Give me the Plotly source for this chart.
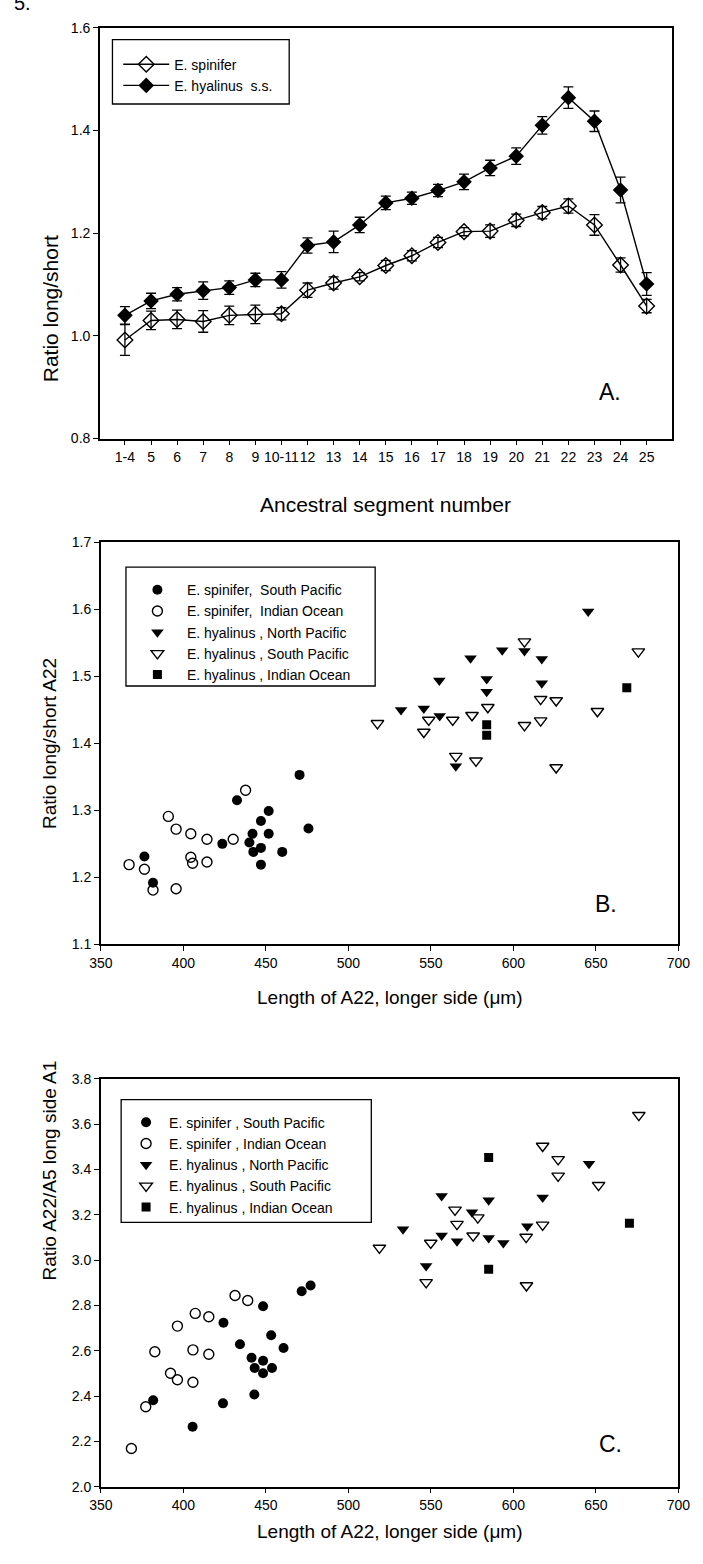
import plotly.graph_objects as go

FONT = "Liberation Sans, Arial, sans-serif"
W, H = 703, 1564

# ---------------- Panel A data ----------------
segments = ["1-4", "5", "6", "7", "8", "9", "10-11", "12", "13", "14", "15", "16",
            "17", "18", "19", "20", "21", "22", "23", "24", "25"]
spinifer_ratio = [0.992, 1.030, 1.032, 1.028, 1.040, 1.042, 1.043, 1.089, 1.103, 1.115, 1.137,
                  1.156, 1.182, 1.203, 1.204, 1.225, 1.240, 1.253, 1.216, 1.138, 1.058]
spinifer_err = [0.030, 0.018, 0.018, 0.021, 0.018, 0.018, 0.012, 0.014, 0.012, 0.008, 0.010,
                0.010, 0.010, 0.008, 0.012, 0.012, 0.012, 0.014, 0.020, 0.014, 0.013]
hyalinus_ratio = [1.040, 1.068, 1.081, 1.088, 1.094, 1.109, 1.109, 1.176, 1.183, 1.216, 1.259,
                  1.268, 1.283, 1.300, 1.327, 1.350, 1.410, 1.464, 1.418, 1.284, 1.101]
hyalinus_err = [0.017, 0.015, 0.013, 0.017, 0.013, 0.013, 0.016, 0.015, 0.021, 0.015, 0.013,
                0.012, 0.012, 0.015, 0.015, 0.016, 0.017, 0.021, 0.020, 0.025, 0.022]

# ---------------- Panel B data ----------------
b_spSP_x = [470.4, 432.5, 451.7, 447.0, 475.8, 441.9, 451.7, 423.6, 440.0, 447.0, 442.4, 459.9, 447.0, 376.4, 381.6]
b_spSP_y = [1.353, 1.315, 1.299, 1.284, 1.273, 1.265, 1.265, 1.250, 1.252, 1.244, 1.238, 1.238, 1.219, 1.231, 1.192]
b_spIO_x = [437.7, 390.9, 395.6, 404.5, 414.3, 430.2, 404.5, 405.6, 414.3, 367.1, 376.4, 381.6, 395.6]
b_spIO_y = [1.330, 1.291, 1.272, 1.265, 1.257, 1.257, 1.230, 1.221, 1.223, 1.219, 1.212, 1.181, 1.183]
b_hyNP_x = [645.3, 593.2, 606.7, 574.0, 617.2, 555.1, 583.8, 617.2, 583.8, 531.9, 545.7, 555.3, 565.1]
b_hyNP_y = [1.597, 1.539, 1.538, 1.527, 1.526, 1.494, 1.496, 1.490, 1.477, 1.450, 1.452, 1.441, 1.366]
b_hySP_x = [606.7, 675.7, 616.5, 625.9, 584.5, 650.9, 574.9, 548.7, 563.2, 517.6, 606.7, 616.5, 545.7, 565.1, 577.3, 625.9]
b_hySP_y = [1.552, 1.537, 1.466, 1.464, 1.454, 1.448, 1.442, 1.435, 1.435, 1.430, 1.427, 1.434, 1.417, 1.381, 1.374, 1.364]
b_hyIO_x = [668.7, 583.8, 583.8]
b_hyIO_y = [1.483, 1.428, 1.412]

# ---------------- Panel C data ----------------
c_spSP_x = [381.7, 405.6, 424.0, 424.3, 434.3, 441.3, 443.0, 443.2, 448.3, 448.3, 448.3, 453.2, 453.7, 460.7, 471.7, 477.1]
c_spSP_y = [2.382, 2.265, 2.368, 2.724, 2.629, 2.569, 2.407, 2.524, 2.797, 2.556, 2.501, 2.669, 2.524, 2.612, 2.863, 2.888]
c_spIO_x = [368.5, 377.2, 382.7, 392.2, 396.4, 396.4, 405.8, 405.8, 407.2, 415.4, 415.4, 431.3, 439.0]
c_spIO_y = [2.169, 2.353, 2.596, 2.501, 2.709, 2.472, 2.604, 2.461, 2.765, 2.750, 2.585, 2.844, 2.822]
c_hyNP_x = [533.1, 547.1, 556.5, 556.5, 565.8, 574.9, 585.0, 585.0, 593.9, 608.4, 617.7, 645.8]
c_hyNP_y = [3.137, 2.974, 3.283, 3.109, 3.083, 3.212, 3.264, 3.098, 3.076, 3.150, 3.277, 3.426]
c_hySP_x = [518.8, 547.1, 549.9, 564.6, 565.8, 575.6, 578.4, 607.7, 607.9, 617.7, 617.7, 627.1, 627.1, 651.6, 676.0]
c_hySP_y = [3.054, 2.902, 3.076, 3.222, 3.159, 3.108, 3.188, 3.102, 2.888, 3.504, 3.156, 3.445, 3.372, 3.331, 3.640]
c_hyIO_x = [585.0, 585.0, 670.3]
c_hyIO_y = [3.453, 2.960, 3.163]

NB = "\u00a0"
legendA_names = ["E. spinifer", "E. hyalinus" + NB * 2 + "s.s."]
legendB_names = ["E. spinifer," + NB * 2 + "South Pacific", "E. spinifer," + NB * 2 + "Indian Ocean",
                 "E. hyalinus" + NB + ", North Pacific", "E. hyalinus" + NB + ", South Pacific",
                 "E. hyalinus" + NB + ", Indian Ocean"]
legendC_names = ["E. spinifer" + NB + ", South Pacific", "E. spinifer" + NB + ", Indian Ocean",
                 "E. hyalinus" + NB + ", North Pacific", "E. hyalinus" + NB + ", South Pacific",
                 "E. hyalinus" + NB + ", Indian Ocean"]


def px_x(p):
    return p / W


def px_y(p):
    return 1 - p / H


fig = go.Figure()

# Panel A traces
fig.add_trace(go.Scatter(
    x=segments, y=spinifer_ratio, mode="lines+markers", name=legendA_names[0],
    line=dict(color="black", width=1.4),
    marker=dict(symbol="diamond-open", size=12, color="black", line=dict(width=1.4)),
    error_y=dict(type="data", array=spinifer_err, color="black", thickness=1.3, width=5),
    xaxis="x", yaxis="y", legend="legend"))
fig.add_trace(go.Scatter(
    x=segments, y=hyalinus_ratio, mode="lines+markers", name=legendA_names[1],
    line=dict(color="black", width=1.4),
    marker=dict(symbol="diamond", size=12, color="black"),
    error_y=dict(type="data", array=hyalinus_err, color="black", thickness=1.3, width=5),
    xaxis="x", yaxis="y", legend="legend"))

marker_styles = [
    dict(symbol="circle", size=10, color="black"),
    dict(symbol="circle-open", size=10, color="black", line=dict(width=1.4)),
    dict(symbol="triangle-down", size=11, color="black"),
    dict(symbol="triangle-down-open", size=11, color="black", line=dict(width=1.4)),
    dict(symbol="square", size=9, color="black"),
]

b_sets = [(b_spSP_x, b_spSP_y), (b_spIO_x, b_spIO_y), (b_hyNP_x, b_hyNP_y),
          (b_hySP_x, b_hySP_y), (b_hyIO_x, b_hyIO_y)]
for (xs, ys), nm, ms in zip(b_sets, legendB_names, marker_styles):
    fig.add_trace(go.Scatter(x=xs, y=ys, mode="markers", name=nm, marker=ms,
                             xaxis="x2", yaxis="y2", legend="legend2"))

c_sets = [(c_spSP_x, c_spSP_y), (c_spIO_x, c_spIO_y), (c_hyNP_x, c_hyNP_y),
          (c_hySP_x, c_hySP_y), (c_hyIO_x, c_hyIO_y)]
for (xs, ys), nm, ms in zip(c_sets, legendC_names, marker_styles):
    fig.add_trace(go.Scatter(x=xs, y=ys, mode="markers", name=nm, marker=ms,
                             xaxis="x3", yaxis="y3", legend="legend3"))

axis_common = dict(showline=True, linecolor="black", linewidth=1.5, mirror=True,
                   ticks="outside", ticklen=5, tickcolor="black", tickwidth=1.3,
                   showgrid=False, zeroline=False,
                   tickfont=dict(family=FONT, size=14, color="black"))

# Panel geometry (pixels)
A_L, A_R, A_T, A_B = 91, 683, 20, 435
B_L, B_R, B_T, B_B = 92, 690, 540, 946
C_L, C_R, C_T, C_B = 92, 690, 1082, 1494

# legend boxes (pixels): left, top, right, bottom
LA = (104, 32, 287, 97)
LB = (118, 565, 376, 685)
LC = (113, 1103, 372, 1227)

legend_font = dict(family=FONT, size=14, color="black")
leg_common = dict(xanchor="left", yanchor="top", borderwidth=0, bgcolor="rgba(0,0,0,0)",
                  font=legend_font, tracegroupgap=0)
fig.update_layout(
    width=W, height=H, margin=dict(l=0, r=0, t=0, b=0),
    paper_bgcolor="white", plot_bgcolor="white",
    font=dict(family=FONT, color="black"),
    xaxis=dict(axis_common, domain=[px_x(A_L), px_x(A_R)], anchor="y",
               type="category", range=[-0.96, 20.96], tickangle=0),
    yaxis=dict(axis_common, domain=[px_y(A_B), px_y(A_T)], anchor="x",
               range=[0.8, 1.6], tickvals=[0.8, 1.0, 1.2, 1.4, 1.6], tickformat=".1f"),
    xaxis2=dict(axis_common, domain=[px_x(B_L), px_x(B_R)], anchor="y2", tickangle=0,
                range=[350, 700], tickvals=[350, 400, 450, 500, 550, 600, 650, 700]),
    yaxis2=dict(axis_common, domain=[px_y(B_B), px_y(B_T)], anchor="x2",
                range=[1.1, 1.7], tickvals=[1.1, 1.2, 1.3, 1.4, 1.5, 1.6, 1.7], tickformat=".1f"),
    xaxis3=dict(axis_common, domain=[px_x(C_L), px_x(C_R)], anchor="y3", tickangle=0,
                range=[350, 700], tickvals=[350, 400, 450, 500, 550, 600, 650, 700]),
    yaxis3=dict(axis_common, domain=[px_y(C_B), px_y(C_T)], anchor="x3",
                range=[2.0, 3.8], tickvals=[2.0, 2.2, 2.4, 2.6, 2.8, 3.0, 3.2, 3.4, 3.6, 3.8],
                tickformat=".1f"),
    legend=dict(leg_common, x=px_x(LA[0] + 6), y=px_y(LA[1] + 9), itemwidth=46),
    legend2=dict(leg_common, x=px_x(LB[0] + 2), y=px_y(LB[1] + 7), itemwidth=49),
    legend3=dict(leg_common, x=px_x(LC[0] + 2), y=px_y(LC[1] + 7), itemwidth=36),
    showlegend=True,
)

shapes = []
for (l, t, r, b) in (LA, LB, LC):
    shapes.append(dict(type="rect", xref="paper", yref="paper",
                       x0=px_x(l), x1=px_x(r), y0=px_y(b), y1=px_y(t),
                       line=dict(color="black", width=1.3), fillcolor="white", layer="below"))
fig.update_layout(shapes=shapes)

letter_font = dict(family=FONT, size=23, color="black")
annotations = [
    # figure label partially cut at the top-left (as in the scanned original)
    dict(text="5.", x=px_x(0), y=px_y(8), xref="paper", yref="paper", xanchor="left",
         yanchor="bottom", showarrow=False, font=dict(family=FONT, size=20, color="black")),
    # axis titles
    dict(text="Ratio long/short", x=px_x(26), y=px_y((A_T + A_B) / 2), xref="paper", yref="paper",
         textangle=-90, showarrow=False, font=dict(family=FONT, size=21, color="black")),
    dict(text="Ancestral segment number", x=px_x((A_L + A_R) / 2), y=px_y(488), xref="paper",
         yref="paper", showarrow=False, font=dict(family=FONT, size=21, color="black")),
    dict(text="Ratio long/short A22", x=px_x(26), y=px_y((B_T + B_B) / 2), xref="paper", yref="paper",
         textangle=-90, showarrow=False, font=dict(family=FONT, size=19, color="black")),
    dict(text="Length of A22, longer side (\u03bcm)", x=px_x((B_L + B_R) / 2), y=px_y(1000),
         xref="paper", yref="paper", showarrow=False, font=dict(family=FONT, size=19, color="black")),
    dict(text="Ratio A22/A5 long side A1", x=px_x(26), y=px_y((C_T + C_B) / 2), xref="paper",
         yref="paper", textangle=-90, showarrow=False, font=dict(family=FONT, size=19, color="black")),
    dict(text="Length of A22, longer side (\u03bcm)", x=px_x((C_L + C_R) / 2), y=px_y(1552),
         xref="paper", yref="paper", showarrow=False, font=dict(family=FONT, size=19, color="black")),
    # panel letters
    dict(text="A.", x=18.6, y=0.89, xref="x", yref="y", showarrow=False, font=letter_font),
    dict(text="B.", x=656, y=1.16, xref="x2", yref="y2", showarrow=False, font=letter_font),
    dict(text="C.", x=659, y=2.19, xref="x3", yref="y3", showarrow=False, font=letter_font),
]
fig.update_layout(annotations=annotations)

fig.write_html("out.html")
